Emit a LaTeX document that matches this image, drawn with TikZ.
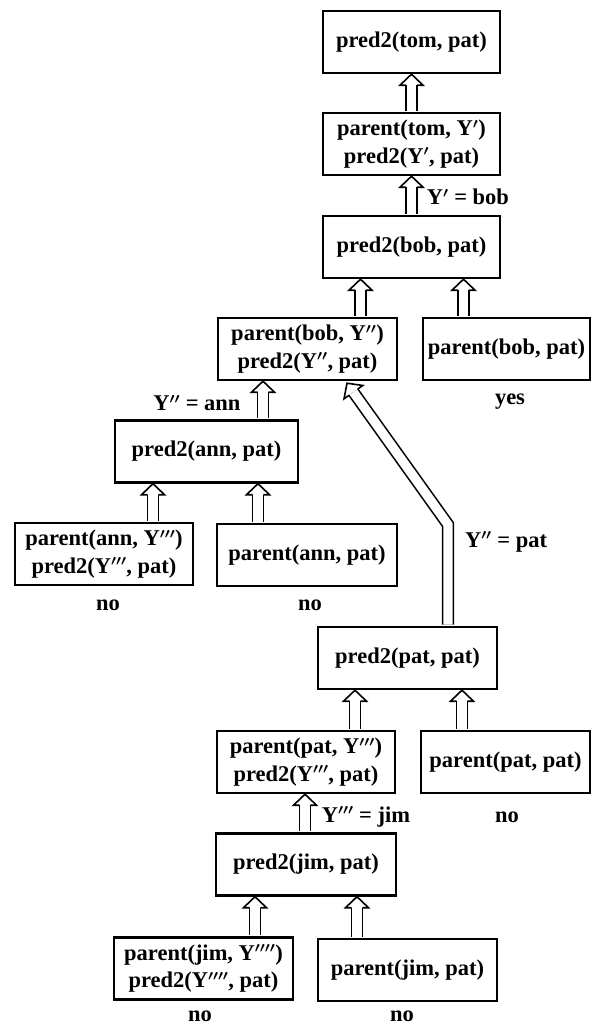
\documentclass[tikz,border=0pt]{standalone}
\usepackage{fontspec}
\setmainfont{Liberation Serif}
\usetikzlibrary{calc}
\def\ahl{11pt}
\def\ahw{11.5pt}
\def\asw{5.4pt}
\newcommand{\HHead}[2]{%
  \coordinate (hb) at ($(#2)!\ahl!(#1)$);
  \draw[harr] ($(hb)!\asw!90:(#2)$) -- ($(hb)!\ahw!90:(#2)$) -- (#2) -- ($(hb)!\ahw!-90:(#2)$) -- ($(hb)!\asw!-90:(#2)$);}
\newcommand{\HArrow}[2]{%
  \coordinate (hb) at ($(#2)!\ahl!(#1)$);
  \draw[dbl] (#1) -- (hb);
  \HHead{#1}{#2}}
\newcommand{\Yp}[1]{Y$^{#1}$}
\begin{document}
\begin{tikzpicture}[x=1pt,y=-1pt,
  font=\fontsize{22.5}{27.5}\selectfont\bfseries\boldmath,
  box/.style={draw, line width=2.4pt, minimum height=62pt, inner sep=0pt, align=center},
  dbl/.style={draw, line width=1.6pt, double=white, double distance=9.2pt, line join=miter},
  harr/.style={draw, line width=1.6pt, line join=miter},
  lbl/.style={inner sep=0pt}]
\useasboundingbox (0,0) rectangle (592,1026);
% boxes
\node[box, minimum width=177pt] (b1) at (411.5,42) {pred2(tom, pat)};
\node[box, minimum width=177pt] (b2) at (411.5,144) {parent(tom, \Yp{\prime})\\pred2(\Yp{\prime}, pat)};
\node[box, minimum width=177pt] (b3) at (411.5,247) {pred2(bob, pat)};
\node[box, minimum width=179pt] (b4) at (307.5,349) {parent(bob, \Yp{\prime\prime})\\pred2(\Yp{\prime\prime}, pat)};
\node[box, minimum width=167pt] (b5) at (506.5,349) {parent(bob, pat)};
\node[box, minimum width=183pt] (b6) at (206.5,451.5) {pred2(ann, pat)};
\node[box, minimum width=178pt] (b7) at (104,554) {parent(ann, \Yp{\prime\prime\prime})\\pred2(\Yp{\prime\prime\prime}, pat)};
\node[box, minimum width=180pt] (b8) at (307,555) {parent(ann, pat)};
\node[box, minimum width=179pt] (b9) at (407.5,658) {pred2(pat, pat)};
\node[box, minimum width=178pt] (b10) at (306,762) {parent(pat, \Yp{\prime\prime\prime})\\pred2(\Yp{\prime\prime\prime}, pat)};
\node[box, minimum width=169pt] (b11) at (505.5,762) {parent(pat, pat)};
\node[box, minimum width=180pt] (b12) at (306,864.5) {pred2(jim, pat)};
\node[box, minimum width=179pt] (b13) at (203.5,968.5) {parent(jim, \Yp{\prime\prime\prime\prime})\\pred2(\Yp{\prime\prime\prime\prime}, pat)};
\node[box, minimum width=179pt] (b14) at (407.5,970) {parent(jim, pat)};
% labels
\node[lbl] (l1) at (468,197) {\Yp{\prime} = bob};
\node[lbl] (l2) at (197,403) {\Yp{\prime\prime} = ann};
\node[lbl] (l3) at (510,402) {yes};
\node[lbl] (l4) at (108,605) {no};
\node[lbl] (l5) at (310,605) {no};
\node[lbl] (l6) at (506,542) {\Yp{\prime\prime} = pat};
\node[lbl] (l7) at (507,817) {no};
\node[lbl] (l8) at (366,817) {\Yp{\prime\prime\prime} = jim};
\node[lbl] (l9) at (200,1016) {no};
\node[lbl] (l10) at (402,1016) {no};
% arrow tips and starts
\coordinate (t1) at (b1.south);
\coordinate (s1) at ($(b2.north -| t1)+(0,-1.2)$);
\coordinate (t2) at (b2.south);
\coordinate (s2) at ($(b3.north -| t2)+(0,-1.2)$);
\coordinate (t3) at ([xshift=-51pt]b3.south);
\coordinate (s3) at ($(b4.north -| t3)+(0,-1.2)$);
\coordinate (t4) at ([xshift=52pt]b3.south);
\coordinate (s4) at ($(b5.north -| t4)+(0,-1.2)$);
\coordinate (t5) at ([xshift=-44.5pt]b4.south);
\coordinate (s5) at ($(b6.north -| t5)+(0,-1.2)$);
\coordinate (t6) at ([xshift=-53.5pt]b6.south);
\coordinate (s6) at ($(b7.north -| t6)+(0,-1.2)$);
\coordinate (t7) at ([xshift=51.5pt]b6.south);
\coordinate (s7) at ($(b8.north -| t7)+(0,-1.2)$);
\coordinate (t9) at ([xshift=-52.5pt]b9.south);
\coordinate (s9) at ($(b10.north -| t9)+(0,-1.2)$);
\coordinate (t10) at ([xshift=54.5pt]b9.south);
\coordinate (s10) at ($(b11.north -| t10)+(0,-1.2)$);
\coordinate (t11) at ([xshift=-1pt]b10.south);
\coordinate (s11) at ($(b12.north -| t11)+(0,-1.2)$);
\coordinate (t12) at ([xshift=-51pt]b12.south);
\coordinate (s12) at ($(b13.north -| t12)+(0,-1.2)$);
\coordinate (t13) at ([xshift=51pt]b12.south);
\coordinate (s13) at ($(b14.north -| t13)+(0,-1.2)$);
\HArrow{s1}{t1}
\HArrow{s2}{t2}
\HArrow{s3}{t3}
\HArrow{s4}{t4}
\HArrow{s5}{t5}
\HArrow{s6}{t6}
\HArrow{s7}{t7}
\HArrow{s9}{t9}
\HArrow{s10}{t10}
\HArrow{s11}{t11}
\HArrow{s12}{t12}
\HArrow{s13}{t13}
% long bent arrow
\coordinate (s8) at ($([xshift=40.5pt]b9.north)+(0,-1.2)$);
\coordinate (bend) at ($(s8)+(0,-100)$);
\coordinate (t8) at ($([xshift=39.5pt]b4.south)+(0,2)$);
\coordinate (hb8) at ($(t8)!\ahl!(bend)$);
\draw[dbl] (s8) -- (bend) -- (hb8);
\HHead{bend}{t8}
\end{tikzpicture}
\end{document}
